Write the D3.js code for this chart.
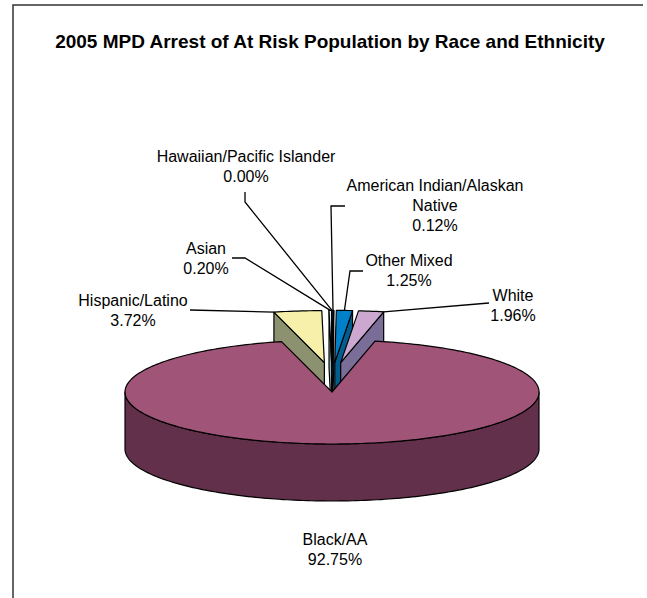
<!DOCTYPE html>
<html>
<head>
<meta charset="utf-8">
<script src="https://cdn.jsdelivr.net/npm/d3@7"></script>
<style>
  body { margin: 0; background: #fff; }
  svg { display: block; }
  text { font-family: "Liberation Sans", Arial, sans-serif; fill: #000; }
</style>
</head>
<body>
<svg id="chart"></svg>
<script>
// data, clockwise from 12 o'clock
const categories = ['American Indian/Alaskan Native', 'Other Mixed', 'White', 'Black/AA', 'Hispanic/Latino', 'Asian', 'Hawaiian/Pacific Islander'];
const shares = [0.12, 1.25, 1.96, 92.75, 3.72, 0.20, 0.00];
const pulledOut = [true, true, true, false, true, true, true];

const topColors = ['#5c1f5c', '#0080c8', '#cca8d0', '#a05578', '#f6f0aa', '#d8f6f8', '#9999ff'];
const sideColors = ['#3a103a', '#005f8e', '#7a6e98', '#62304a', '#8c9170', '#90b8bc', '#6666aa'];

const width = 647, height = 598;
const cx = 332, cy = 392, rx = 207, ry = 52, depth = 57;
const explode = 118;
const k = ry / rx;

// label placement (name lines, first baseline, leader elbow, where on the rim the leader ends)
const labelLayout = {
    'American Indian/Alaskan Native': { lines: ['American Indian/Alaskan', 'Native'], x: 435, y: 191, leader: [[345, 206], [331, 206]], t: 0.5 },
    'Other Mixed': { lines: ['Other Mixed'], x: 409, y: 266, leader: [[363, 271], [350, 271]], t: 0.5 },
    'White': { lines: ['White'], x: 513, y: 301, leader: [[489, 303]], t: 1 },
    'Black/AA': { lines: ['Black/AA'], x: 335, y: 545, leader: null },
    'Hispanic/Latino': { lines: ['Hispanic/Latino'], x: 133, y: 306, leader: [[190, 310]], t: 0 },
    'Asian': { lines: ['Asian'], x: 206, y: 254, leader: [[232, 258], [245, 258]], t: 0.5 },
    'Hawaiian/Pacific Islander': { lines: ['Hawaiian/Pacific Islander'], x: 246, y: 162, leader: [[245, 192], [245, 202]], t: 0.5 }
};

const svg = d3.select('#chart')
    .attr('width', width)
    .attr('height', height);

const pct = d3.format('.2f');

const pie = d3.pie().sort(null).startAngle(0).endAngle(2 * Math.PI);
const arcs = pie(shares).map((d, i) => {
    const mid = (d.startAngle + d.endAngle) / 2;
    const off = pulledOut[i]
        ? [explode * 0.5 * Math.sin(mid), -explode * k * Math.cos(mid)]
        : [0, 0];
    return { ...d, i, name: categories[i], mid, off };
});

// project a point of the pie plane to the screen
function P(a, r, off, dz) {
    return [cx + off[0] + r * Math.sin(a), cy + off[1] - r * Math.cos(a) * k + (dz || 0)];
}

function rim(a0, a1, off, dz) {
    const n = Math.max(2, Math.ceil(Math.abs(a1 - a0) / 0.02));
    return d3.range(n + 1).map(j => P(a0 + (a1 - a0) * j / n, rx, off, dz));
}

const closed = d3.line().curve(d3.curveLinearClosed);
const g = svg.append('g')
    .attr('stroke', '#000')
    .attr('stroke-width', 1.2)
    .attr('stroke-linejoin', 'round');

function drawSlice(d) {
    const { startAngle: a0, endAngle: a1, off } = d;
    if (a1 - a0 <= 0) return;
    // outer wall, only the part facing the viewer
    const w0 = Math.max(a0, Math.PI / 2), w1 = Math.min(a1, 3 * Math.PI / 2);
    if (w1 > w0) {
        const pts = rim(w0, w1, off, 0).concat(rim(w0, w1, off, depth).reverse());
        g.append('path').attr('d', closed(pts)).attr('fill', sideColors[d.i]);
    }
    // radial cut faces
    if (Math.sin(a0) < -1e-6) {
        g.append('path')
            .attr('d', closed([P(a0, 0, off), P(a0, rx, off), P(a0, rx, off, depth), P(a0, 0, off, depth)]))
            .attr('fill', sideColors[d.i]);
    }
    if (Math.sin(a1) > 1e-6) {
        g.append('path')
            .attr('d', closed([P(a1, 0, off), P(a1, rx, off), P(a1, rx, off, depth), P(a1, 0, off, depth)]))
            .attr('fill', sideColors[d.i]);
    }
    // top face
    g.append('path')
        .attr('d', closed([P(0, 0, off)].concat(rim(a0, a1, off, 0))))
        .attr('fill', topColors[d.i]);
}

// pulled-out slices sit behind, farthest first
arcs.filter(d => pulledOut[d.i])
    .sort((a, b) => Math.cos(b.mid) - Math.cos(a.mid))
    .forEach(drawSlice);
arcs.filter(d => !pulledOut[d.i]).forEach(drawSlice);

// labels and leader lines
const lab = svg.append('g').attr('font-size', 16).attr('text-anchor', 'middle');
arcs.forEach(d => {
    const L = labelLayout[d.name];
    const lines = L.lines.concat([pct(d.data) + '%']);
    const t = lab.append('text').attr('x', L.x).attr('y', L.y);
    lines.forEach((s, j) => {
        t.append('tspan').attr('x', L.x).attr('dy', j ? 20 : 0).text(s);
    });
    if (L.leader) {
        const a = d.startAngle + (d.endAngle - d.startAngle) * L.t;
        const end = P(a, rx, d.off);
        svg.append('path')
            .attr('d', d3.line()(L.leader.concat([end])))
            .attr('fill', 'none')
            .attr('stroke', '#000')
            .attr('stroke-width', 1.3);
    }
});

// title
svg.append('text')
    .attr('x', 330)
    .attr('y', 48)
    .attr('text-anchor', 'middle')
    .attr('font-size', 19)
    .attr('font-weight', 'bold')
    .text('2005 MPD Arrest of At Risk Population by Race and Ethnicity');

// chart area frame (top and left edges show)
svg.append('path')
    .attr('d', d3.line()([[13, height], [13, 5], [643, 5]]))
    .attr('fill', 'none')
    .attr('stroke', '#333')
    .attr('stroke-width', 1.5);
</script>
</body>
</html>
